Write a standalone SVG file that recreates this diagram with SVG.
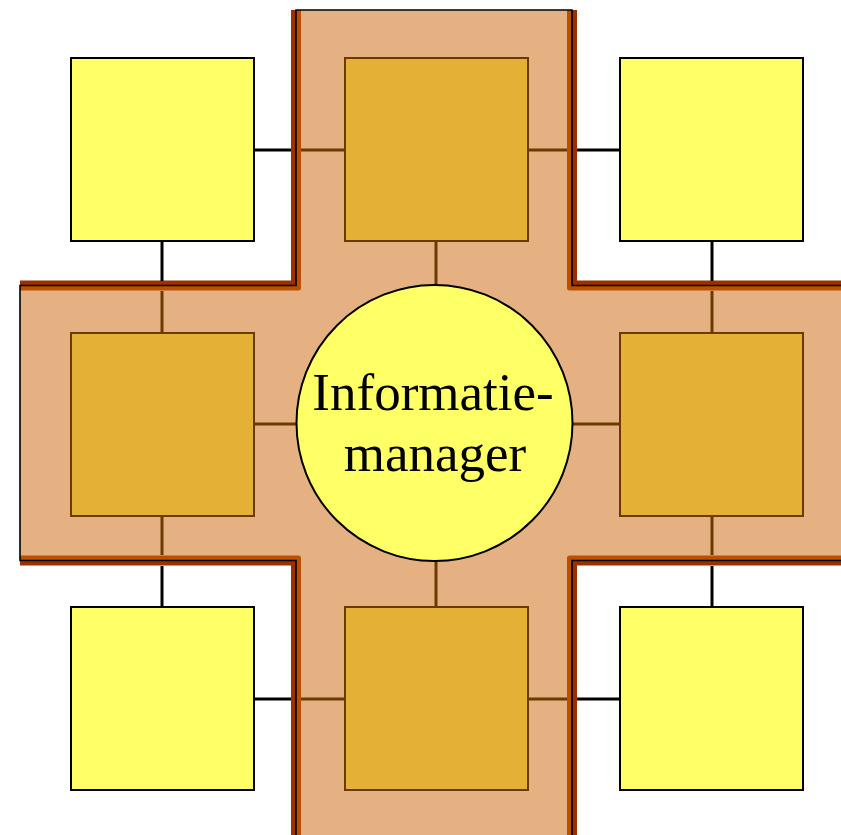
<svg xmlns="http://www.w3.org/2000/svg" width="841" height="835" viewBox="0 0 841 835">
<style>
.yb{fill:#FFFF66;stroke:#000;stroke-width:2}
.db{fill:#E4B035;stroke:#6B3A00;stroke-width:2}
.cb{stroke:#000;stroke-width:3;fill:none}
.cn{stroke:#6B3A00;stroke-width:3;fill:none}
.bo{fill:none;stroke:#9C3000;stroke-width:5;stroke-linejoin:round}
.bi{fill:none;stroke:#BC5000;stroke-width:5;stroke-linejoin:round}
.bk{fill:none;stroke:#000;stroke-width:1.6}
.t{font-family:"Liberation Serif","Times New Roman",serif;font-size:53px;fill:#000;text-anchor:middle}
</style>
<rect width="841" height="835" fill="#fff"/>
<g id="cross">
<path d="M296 10 H572 V285.5 H845 V560.5 H572 V840 H296 V560.5 H20 V285.5 H296 Z" fill="#E5B183"/>
<path class="bo" d="M293.5 10 V283 H20"/>
<path class="bo" d="M574.5 10 V283 H845"/>
<path class="bo" d="M293.5 840 V563 H20"/>
<path class="bo" d="M574.5 840 V563 H845"/>
<path class="bi" d="M298.5 10 V288 H20"/>
<path class="bi" d="M569.5 10 V288 H845"/>
<path class="bi" d="M298.5 840 V558 H20"/>
<path class="bi" d="M569.5 840 V558 H845"/>
<path class="bk" d="M296 840 V560.5 H20 V285.5 H296 V10 H572 V285.5 H845 M845 560.5 H572 V840"/>
</g>
<g id="connectors">
<line class="cb" x1="254" y1="150" x2="291" y2="150"/>
<line class="cn" x1="301" y1="150" x2="345" y2="150"/>
<line class="cn" x1="528" y1="150" x2="567" y2="150"/>
<line class="cb" x1="577" y1="150" x2="620" y2="150"/>
<line class="cb" x1="254" y1="699" x2="291" y2="699"/>
<line class="cn" x1="301" y1="699" x2="345" y2="699"/>
<line class="cn" x1="528" y1="699" x2="567" y2="699"/>
<line class="cb" x1="577" y1="699" x2="620" y2="699"/>
<line class="cb" x1="162" y1="241" x2="162" y2="281"/>
<line class="cn" x1="162" y1="291" x2="162" y2="333"/>
<line class="cn" x1="162" y1="516" x2="162" y2="555"/>
<line class="cb" x1="162" y1="566" x2="162" y2="607"/>
<line class="cb" x1="712" y1="241" x2="712" y2="281"/>
<line class="cn" x1="712" y1="291" x2="712" y2="333"/>
<line class="cn" x1="712" y1="516" x2="712" y2="555"/>
<line class="cb" x1="712" y1="566" x2="712" y2="607"/>
<line class="cn" x1="436" y1="241" x2="436" y2="286"/>
<line class="cn" x1="436" y1="560" x2="436" y2="607"/>
<line class="cn" x1="254" y1="424" x2="298" y2="424"/>
<line class="cn" x1="572" y1="424" x2="620" y2="424"/>
</g>
<g id="n-tl"><rect class="yb" x="71" y="58" width="183" height="183"/></g>
<g id="n-tr"><rect class="yb" x="620" y="58" width="183" height="183"/></g>
<g id="n-bl"><rect class="yb" x="71" y="607" width="183" height="183"/></g>
<g id="n-br"><rect class="yb" x="620" y="607" width="183" height="183"/></g>
<g id="n-t"><rect class="db" x="345" y="58" width="183" height="183"/></g>
<g id="n-l"><rect class="db" x="71" y="333" width="183" height="183"/></g>
<g id="n-r"><rect class="db" x="620" y="333" width="183" height="183"/></g>
<g id="n-b"><rect class="db" x="345" y="607" width="183" height="183"/></g>
<g id="n-center">
<circle cx="434.5" cy="423" r="138" fill="#FFFF66" stroke="#000" stroke-width="2"/>
<text class="t" x="433" y="410">Informatie-</text>
<text class="t" x="435" y="471">manager</text>
</g>
</svg>
